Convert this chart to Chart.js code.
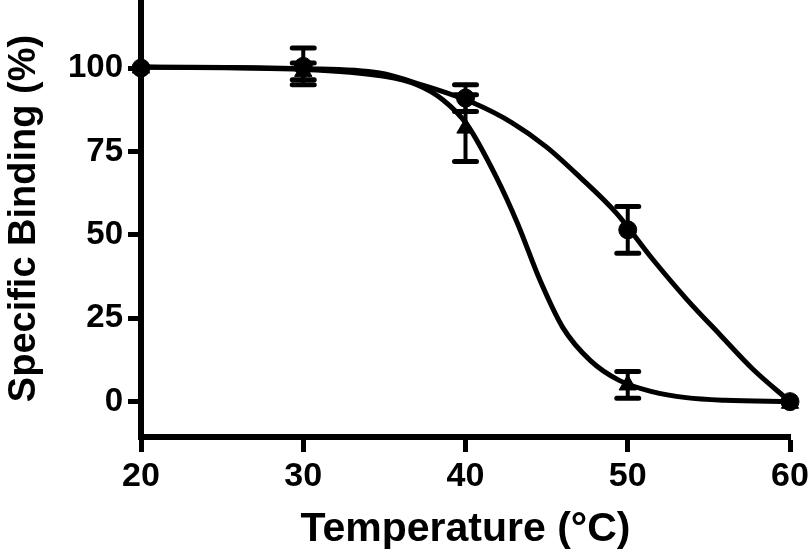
<!DOCTYPE html>
<html>
<head>
<meta charset="utf-8">
<script src="https://cdn.jsdelivr.net/npm/chart.js@4"></script>
<style>
  html, body { margin: 0; padding: 0; background: #fff; }
  canvas { display: block; }
</style>
</head>
<body>
<canvas id="chartBinding" width="810" height="554"></canvas>
<script>
// Measured points (mean +/- SEM)
const temps = [20, 30, 40, 50, 60];
const circleMean = [100, 100.5, 91, 51.5, 0];
const circleErr = [0, 5.5, 4, 7, 0];
const triangleMean = [100, 99, 82, 5, -0.5];
const triangleErr = [0, 2.5, 10, 4, 0];

// Fitted curves
const circleFitX = [20, 30, 34.7, 37.4, 40.5, 42.9, 45, 47.05, 49.3, 51.6, 53.65, 55.7, 57.7, 60];
const circleFitY = [100.3, 99.8, 98.5, 94.8, 89.5, 83.5, 76.3, 67.3, 56.5, 42.3, 30.6, 20, 9.8, 0];
const triangleFitX = [20, 30, 35, 37, 38.6, 40.1, 41.9, 43.2, 44.6, 46, 47.7, 49.5, 51.5, 53.6, 56, 60];
const triangleFitY = [100.3, 99.6, 97.5, 95, 90.5, 83, 67.3, 53.5, 36.3, 22.2, 12.3, 6.3, 3, 1.2, 0.4, 0];

// Tick labels
const xTicks = [20, 30, 40, 50, 60];
const yTicks = [0, 25, 50, 75, 100];

const toPoints = (xs, ys) => xs.map((v, i) => ({ x: v, y: ys[i] }));

Chart.defaults.font.family = "'Liberation Sans', Arial, sans-serif";
Chart.defaults.font.weight = "bold";
Chart.defaults.color = "#000";

// draw error bars from the arrays above
const errorBars = {
  id: "errorBars",
  afterDatasetsDraw(chart) {
    const { ctx, scales } = chart;
    const x = scales.x;
    const y = scales.y;
    ctx.save();
    ctx.strokeStyle = "#000";
    ctx.lineCap = "round";
    const draw = (means, errs) => {
      temps.forEach((t, i) => {
        if (!errs[i]) return;
        const px = x.getPixelForValue(t);
        const top = y.getPixelForValue(means[i] + errs[i]);
        const bot = y.getPixelForValue(means[i] - errs[i]);
        ctx.lineWidth = 4;
        ctx.beginPath();
        ctx.moveTo(px, top);
        ctx.lineTo(px, bot);
        ctx.stroke();
        ctx.lineWidth = 5;
        ctx.beginPath();
        ctx.moveTo(px - 11, top);
        ctx.lineTo(px + 11, top);
        ctx.moveTo(px - 11, bot);
        ctx.lineTo(px + 11, bot);
        ctx.stroke();
      });
    };
    draw(circleMean, circleErr);
    draw(triangleMean, triangleErr);
    ctx.restore();
  },
};

new Chart(document.getElementById("chartBinding"), {
  type: "scatter",
  data: {
    datasets: [
      {
        label: "fit circle",
        data: toPoints(circleFitX, circleFitY),
        showLine: true,
        borderColor: "#000",
        borderWidth: 5,
        pointRadius: 0,
        cubicInterpolationMode: "monotone",
        clip: false,
      },
      {
        label: "fit triangle",
        data: toPoints(triangleFitX, triangleFitY),
        showLine: true,
        borderColor: "#000",
        borderWidth: 5,
        pointRadius: 0,
        cubicInterpolationMode: "monotone",
        clip: false,
      },
      {
        label: "circle",
        data: toPoints(temps, circleMean),
        pointStyle: "circle",
        pointRadius: 9,
        backgroundColor: "#000",
        borderColor: "#000",
        clip: false,
      },
      {
        label: "triangle",
        data: toPoints(temps, triangleMean),
        pointStyle: "triangle",
        pointRadius: 10,
        backgroundColor: "#000",
        borderColor: "#000",
        clip: false,
      },
    ],
  },
  options: {
    responsive: false,
    animation: false,
    devicePixelRatio: 1,
    layout: { autoPadding: false, padding: { top: 0, right: 20, bottom: 0, left: 0 } },
    plugins: {
      legend: { display: false },
      tooltip: { enabled: false },
    },
    scales: {
      x: {
        type: "linear",
        min: 20,
        max: 60,
        afterBuildTicks: (s) => { s.ticks = xTicks.map((v) => ({ value: v })); },
        afterFit: (s) => {
          s.height = 117;
          s.paddingLeft = 0;
          s.paddingRight = 0;
        },
        border: { display: true, width: 6, color: "#000" },
        grid: { drawOnChartArea: false, drawTicks: true, tickLength: 15, tickWidth: 5, tickColor: "#000" },
        ticks: { color: "#000", font: { size: 34, weight: "bold" }, padding: 4, maxRotation: 0 },
        title: {
          display: true,
          text: "Temperature (°C)",
          color: "#000",
          font: { size: 41, weight: "bold" },
          padding: { top: 0, bottom: 0 },
        },
      },
      y: {
        type: "linear",
        min: -10.6,
        max: 120.4,
        afterBuildTicks: (s) => { s.ticks = yTicks.map((v) => ({ value: v })); },
        afterFit: (s) => {
          s.width = 141;
          s.paddingTop = 0;
          s.paddingBottom = 0;
        },
        border: { display: true, width: 6, color: "#000" },
        grid: { drawOnChartArea: false, drawTicks: true, tickLength: 13, tickWidth: 5, tickColor: "#000" },
        ticks: { color: "#000", font: { size: 33, weight: "bold" }, padding: 5 },
        title: {
          display: true,
          text: "Specific Binding (%)",
          color: "#000",
          font: { size: 38, weight: "bold" },
          padding: { top: 2, bottom: 0 },
        },
      },
    },
  },
  plugins: [errorBars],
});
</script>
</body>
</html>
